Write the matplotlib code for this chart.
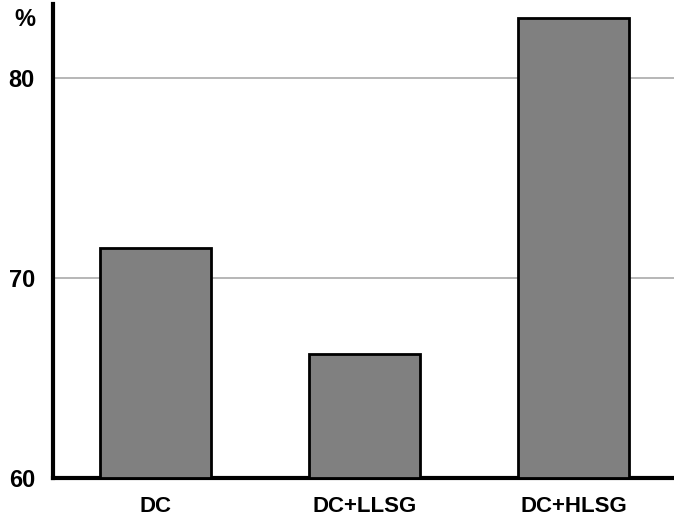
import matplotlib
matplotlib.use('Agg')
from matplotlib import pyplot as plt

## 데이터
groups = ['DC', 'DC+LLSG', 'DC+HLSG']
values = [71.5, 66.2, 83.0]
yticks = [60, 70, 80]

plt.rcParams['font.family'] = ['Liberation Sans', 'DejaVu Sans']

fig = plt.figure(figsize=(6.74, 5.2), dpi=100)
ax = fig.add_axes([0.0786, 0.081, 0.9214, 0.911])

x = list(range(len(groups)))
ax.bar(x, [v - 60 for v in values], bottom=60, width=0.53,
       color='#808080', edgecolor='black', linewidth=2, zorder=3)

ax.set_ylim(60, 83.7)
ax.set_xlim(-0.49, 2.48)
ax.set_yticks(yticks)
ax.set_yticklabels([str(t) for t in yticks], fontsize=17, fontweight='bold')
ax.set_xticks(x)
ax.set_xticklabels(groups, fontsize=16, fontweight='bold')
ax.tick_params(length=0)
ax.tick_params(axis='y', pad=13)
ax.tick_params(axis='x', pad=13)
ax.grid(axis='y', color='#aaaaaa', linewidth=1.2, zorder=0)

for s in ['top', 'right']:
    ax.spines[s].set_visible(False)
ax.spines['left'].set_linewidth(3)
ax.spines['bottom'].set_linewidth(3)

fig.text(0.037, 0.963, '%', fontsize=17, fontweight='bold', ha='center', va='center')

plt.savefig('out.png')
